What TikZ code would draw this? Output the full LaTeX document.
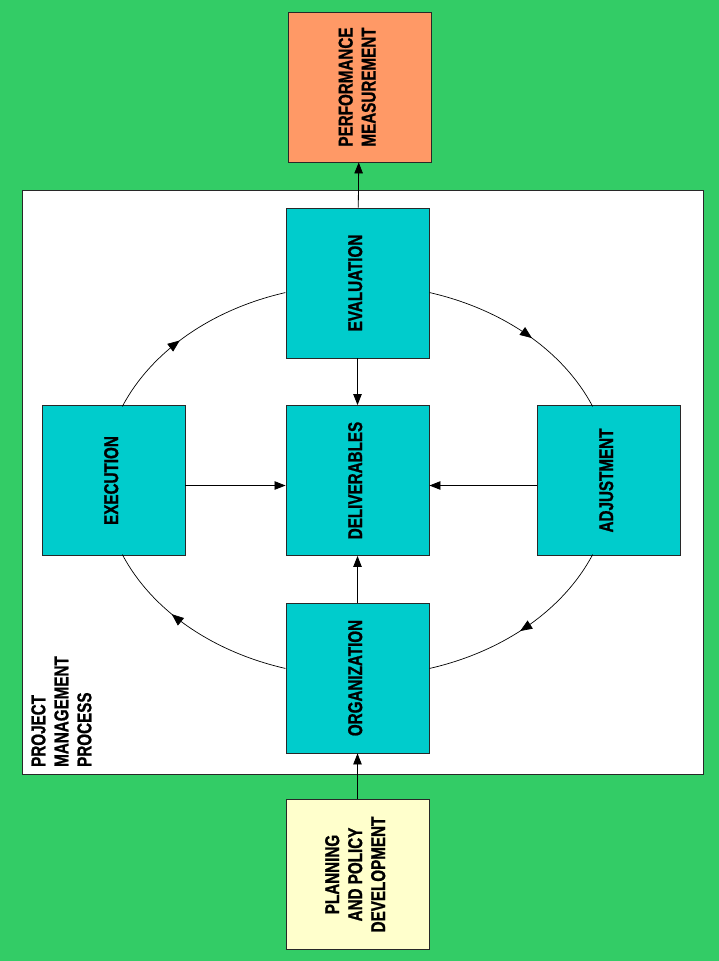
\documentclass[tikz,border=0pt]{standalone}
\usepackage{fontspec}
\usepackage{graphicx}
\setmainfont[FakeStretch=0.76,BoldFeatures={FakeBold=1}]{Liberation Sans}
\usetikzlibrary{arrows.meta,decorations.markings,calc}

\definecolor{bggreen}{RGB}{51,204,102}
\definecolor{tealbox}{RGB}{0,204,204}
\definecolor{salmon}{RGB}{255,153,102}
\definecolor{paleyellow}{RGB}{255,255,204}
\definecolor{edge}{RGB}{40,40,40}

% rotated multi-line label, read from bottom to top
\newcommand\uplabel[2][c]{\rotatebox{90}{\begin{tabular}{@{}#1@{}}#2\end{tabular}}}

\begin{document}
\begin{tikzpicture}[x=1pt,y=-1pt,
  labelfont/.style={font=\bfseries\fontsize{20}{23}\selectfont},
  stage/.style={labelfont, draw=edge, line width=0.9pt, fill=tealbox,
    minimum width=143pt, minimum height=150pt, inner sep=0pt},
  link/.style={line width=0.8pt, -{Triangle[length=11pt,width=8.5pt]}},
  cyc/.style={line width=0.7pt, postaction={decorate},
    decoration={markings, mark=at position #1 with
      {\arrow{Triangle[length=12pt,width=9.5pt]}}}},
  cyc/.default=0.5]

\useasboundingbox (0,0) rectangle (719,961);
\fill[bggreen] (0,0) rectangle (719,961);

% project management area
\node[draw=edge, line width=0.9pt, fill=white, anchor=north west,
  minimum width=681pt, minimum height=584pt, inner sep=0pt] (pm) at (22,190) {};
\node[labelfont, anchor=south west, inner sep=0pt] (pmlabel) at (29,767)
  {\uplabel[l]{PROJECT\\MANAGEMENT\\PROCESS}};

% boxes
\node[stage, fill=salmon] (perf) at (359.5,87) {\uplabel{PERFORMANCE\\MEASUREMENT}};
\node[stage] (eval)  at (357.5,283)   {\uplabel{EVALUATION}};
\node[stage] (exe)   at (113.5,480.5) {\uplabel{EXECUTION}};
\node[stage] (deliv) at (357.5,480.5) {\uplabel{DELIVERABLES}};
\node[stage] (adj)   at (608.5,480.5) {\uplabel{ADJUSTMENT}};
\node[stage] (org)   at (357.5,678)   {\uplabel{ORGANIZATION}};
\node[stage, fill=paleyellow] (plan) at (357.5,874.5) {\uplabel{PLANNING\\AND POLICY\\DEVELOPMENT}};

% straight links
\draw[link] (plan) -- (org);
\draw[link] (org) -- (deliv);
\draw[link] (eval) -- (deliv);
\draw[link] (eval) -- (perf);
\draw[link] ([yshift=-5pt]exe.east) -- ([yshift=-5pt]deliv.west);
\draw[link] ([yshift=-5pt]adj.west) -- ([yshift=-5pt]deliv.east);

% elliptical cycle around the deliverables
\coordinate (c) at (357.5,480.5);
\draw[cyc=0.43] ($(c)+(202.2:254 and 196)$) arc[start angle=202.2, end angle=253.5, x radius=254, y radius=196];
\draw[cyc=0.55] ($(c)+(286.5:254 and 196)$) arc[start angle=286.5, end angle=337.8, x radius=254, y radius=196];
\draw[cyc=0.52] ($(c)+(22.2:254 and 196)$) arc[start angle=22.2, end angle=73.5, x radius=254, y radius=196];
\draw[cyc=0.62] ($(c)+(106.5:254 and 196)$) arc[start angle=106.5, end angle=157.8, x radius=254, y radius=196];
\end{tikzpicture}
\end{document}
